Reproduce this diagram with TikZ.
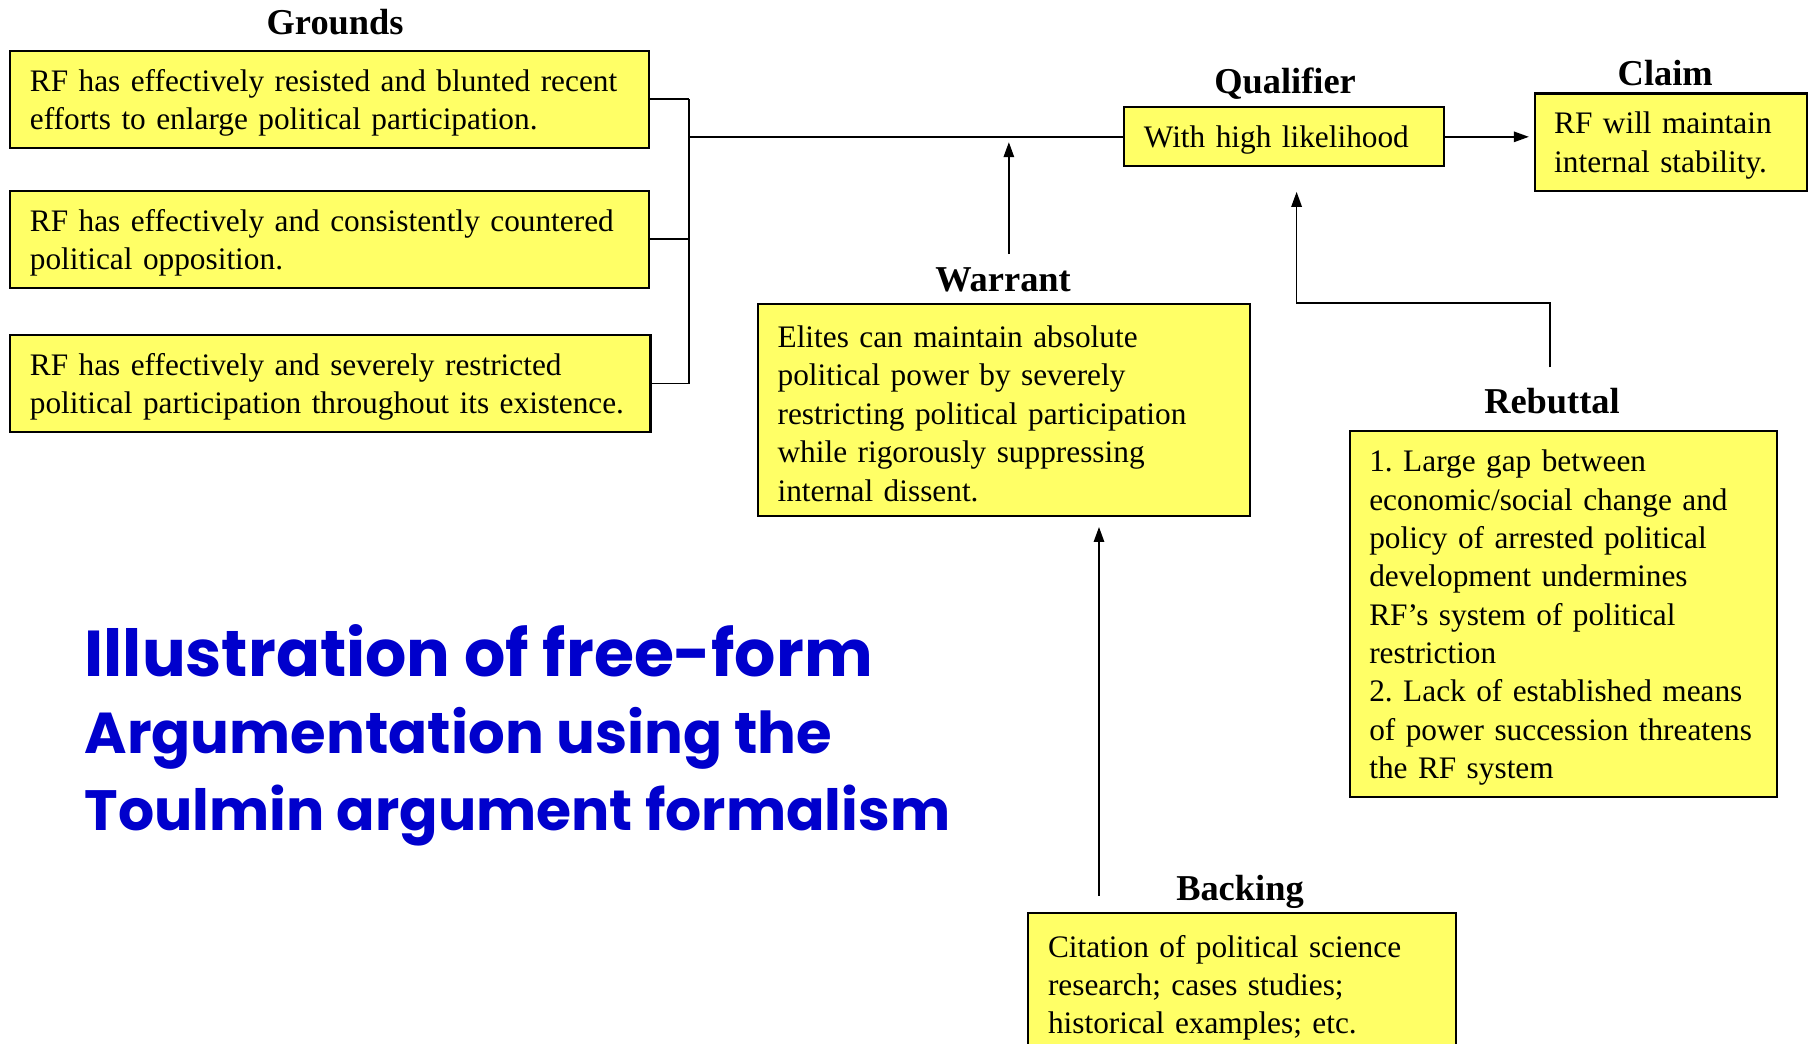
\documentclass[tikz,border=0pt]{standalone}
\usepackage{fontspec}
\setmainfont{Liberation Serif}
\newfontfamily\titlefont{Poppins}
\usetikzlibrary{arrows.meta,calc}
\definecolor{boxyellow}{RGB}{255,255,102}
\definecolor{titleblue}{RGB}{0,0,204}
\newcommand\Lne[1]{\mbox{#1}}
\newcommand\Fst[1]{\mbox{\rule{0pt}{25pt}#1}}
\tikzset{
  argbox/.style={draw=black, line width=1.8pt, fill=boxyellow, anchor=north west,
    inner xsep=17pt, inner ysep=0pt, align=left,
    font=\fontsize{27.1}{33.2}\selectfont\frenchspacing},
  heading/.style={anchor=base, inner sep=0pt, font=\fontsize{31.5}{36}\selectfont\bfseries},
  conn/.style={line width=1.5pt},
  arr/.style={line width=1.5pt, -{Triangle[length=13pt,width=9pt]}},
}
\begin{document}
\begin{tikzpicture}[x=1pt,y=-1pt]
\useasboundingbox (0,0) rectangle (1568,903);
\clip (0,0) rectangle (1568,903);
\fill[white] (0,0) rectangle (1568,903);

% Grounds
\node[heading] (lgrounds) at (290,30) {Grounds};
\node[argbox, minimum width=553pt, minimum height=84pt, text width=519pt] (g1) at (8,43)
  {\Fst{RF has effectively resisted and blunted recent}\\\Lne{efforts to enlarge political participation.}};
\node[argbox, minimum width=553pt, minimum height=84pt, text width=519pt] (g2) at (8,164)
  {\Fst{RF has effectively and consistently countered}\\\Lne{political opposition.}};
\node[argbox, minimum width=554pt, minimum height=84pt, text width=520pt] (g3) at (8,289)
  {\Fst{RF has effectively and severely restricted}\\\Lne{political participation throughout its existence.}};

% Qualifier and Claim
\node[heading] (lqual) at (1112,81) {Qualifier};
\node[argbox, minimum width=277pt, minimum height=51pt, text width=243pt] (qual) at (972,92)
  {\Fst{With high likelihood}};
\node[heading] (lclaim) at (1441,74) {Claim};
\node[argbox, minimum width=236pt, minimum height=84pt, text width=202pt] (claim) at (1327,80)
  {\Fst{RF will maintain}\\\Lne{internal stability.}};

% Warrant
\node[heading] (lwarrant) at (868,252) {Warrant};
\node[argbox, minimum width=426pt, minimum height=184pt, text width=392pt] (warrant) at (655,262)
  {\Fst{Elites can maintain absolute}\\\Lne{political power by severely}\\\Lne{restricting political participation}\\\Lne{while rigorously suppressing}\\\Lne{internal dissent.}};

% Rebuttal
\node[heading] (lrebut) at (1343,358) {Rebuttal};
\node[argbox, minimum width=370pt, minimum height=317pt, text width=336pt] (rebut) at (1167,372)
  {\Fst{1. Large gap between}\\\Lne{economic/social change and}\\\Lne{policy of arrested political}\\\Lne{development undermines}\\\Lne{RF’s system of political}\\\Lne{restriction}\\\Lne{2. Lack of established means}\\\Lne{of power succession threatens}\\\Lne{the RF system}};

% Backing
\node[heading] (lback) at (1073,779) {Backing};
\node[argbox, minimum width=370pt, minimum height=124pt, text width=336pt] (back) at (889,789)
  {\Fst{Citation of political science}\\\Lne{research; cases studies;}\\\Lne{historical examples; etc.}};

% Title
\node[anchor=west, inner sep=0pt, align=left, text=titleblue,
  font=\fontsize{48}{66.5}\selectfont\titlefont\bfseries] (title) at (73,636)
  {\resizebox{682pt}{!}{Illustration of free-form}\\
   \resizebox{647pt}{!}{Argumentation using the}\\
   \resizebox{749pt}{!}{Toulmin argument formalism}};

% Connectors
\coordinate (bx) at (596,0);
\draw[conn] (g1.east) -- (g1.east -| bx);
\draw[conn] (g2.east) -- (g2.east -| bx);
\draw[conn] (g3.east) -- (g3.east -| bx);
\draw[conn] (g1.east -| bx) -- (g3.east -| bx);
\draw[conn] (qual.west -| bx) -- (qual.west);
\draw[arr, shorten >=4pt] (qual.east) -- (qual.east -| claim.west);

\coordinate (wstart) at (873,220);
\coordinate (wend) at (873,123);
\draw[arr] (wstart) -- (wend);

\coordinate (rstart) at (1341,318);
\coordinate (rturn) at (1341,262);
\coordinate (rend) at (1122,166);
\draw[arr] (rstart) -- (rturn) -| (rend);

\coordinate (bstart) at (951,775);
\coordinate (bend) at (951,456);
\draw[arr] (bstart) -- (bend);
\end{tikzpicture}
\end{document}
